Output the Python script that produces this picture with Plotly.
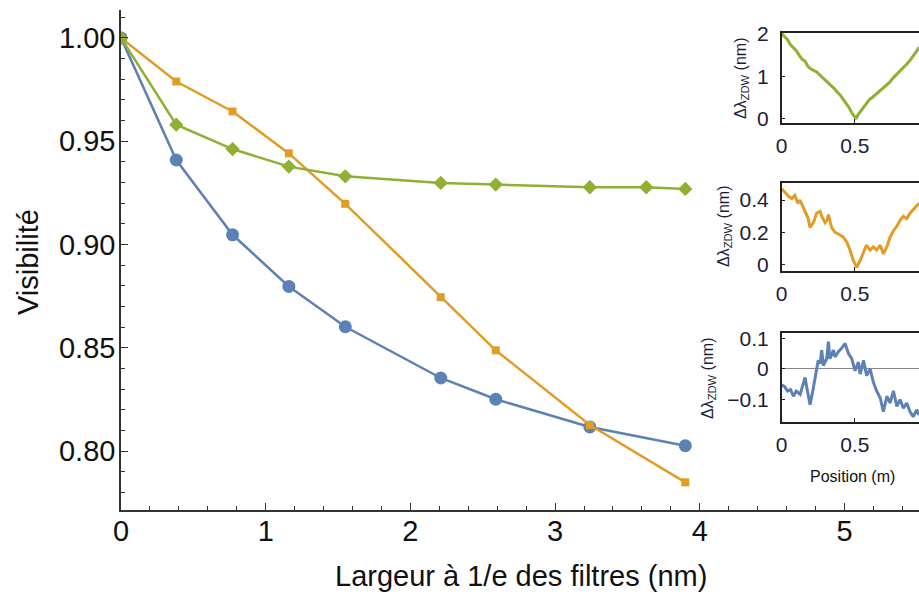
import plotly.graph_objects as go

# main plot data: filter width (nm) vs visibility
x_main = [0, 0.382, 0.771, 1.16, 1.55, 2.21, 2.59, 3.24, 3.90]
x_green = [0, 0.382, 0.771, 1.16, 1.55, 2.21, 2.59, 3.24, 3.63, 3.90]
vis_blue = [1.0, 0.9409, 0.9047, 0.8797, 0.8602, 0.8354, 0.8251, 0.8117, 0.8026]
vis_orange = [1.0, 0.9789, 0.9644, 0.9441, 0.9197, 0.8745, 0.8488, 0.8126, 0.7849]
vis_green = [1.0, 0.958, 0.9462, 0.9377, 0.933, 0.9298, 0.929, 0.9277, 0.9277, 0.9269]

# inset traces: ZDW deviation along position (m)
pos_g = [0.00, 0.02, 0.04, 0.06, 0.08, 0.10, 0.12, 0.14, 0.16, 0.18, 0.20, 0.22, 0.24,
         0.26, 0.28, 0.30, 0.32, 0.34, 0.36, 0.38, 0.40, 0.42, 0.44, 0.46, 0.48, 0.50,
         0.51, 0.52, 0.54, 0.56, 0.58, 0.60, 0.62, 0.64, 0.66, 0.68, 0.70, 0.72, 0.74,
         0.76, 0.78, 0.80, 0.82, 0.84, 0.86, 0.88, 0.90, 0.92, 0.94]
dz_g = [2.00, 1.93, 1.86, 1.74, 1.66, 1.60, 1.49, 1.40, 1.35, 1.23, 1.17, 1.14, 1.10,
        1.03, 0.97, 0.90, 0.84, 0.77, 0.71, 0.63, 0.56, 0.46, 0.37, 0.27, 0.14, 0.03,
        0.00, 0.08, 0.18, 0.28, 0.37, 0.45, 0.50, 0.56, 0.61, 0.67, 0.72, 0.80, 0.86,
        0.95, 1.02, 1.07, 1.14, 1.22, 1.30, 1.38, 1.47, 1.57, 1.68]

pos_o = [0.00, 0.01, 0.03, 0.05, 0.07, 0.09, 0.11, 0.125, 0.14, 0.16, 0.18, 0.194, 0.217,
         0.24, 0.263, 0.274, 0.297, 0.31, 0.32, 0.342, 0.365, 0.388, 0.41, 0.422, 0.445,
         0.468, 0.49, 0.514, 0.537, 0.56, 0.58, 0.605, 0.628, 0.65, 0.674, 0.696, 0.72,
         0.742, 0.765, 0.79, 0.81, 0.833, 0.856, 0.88, 0.90, 0.925, 0.94]
dz_o = [0.47, 0.46, 0.44, 0.42, 0.41, 0.43, 0.38, 0.40, 0.37, 0.33, 0.29, 0.23, 0.26,
        0.32, 0.33, 0.30, 0.26, 0.275, 0.31, 0.23, 0.20, 0.19, 0.175, 0.17, 0.14,
        0.09, 0.025, -0.017, 0.025, 0.077, 0.12, 0.09, 0.11, 0.09, 0.12, 0.067, 0.11,
        0.17, 0.21, 0.24, 0.275, 0.30, 0.285, 0.32, 0.34, 0.37, 0.38]

pos_b = [0.00, 0.02, 0.04, 0.06, 0.08, 0.10, 0.126, 0.148, 0.16, 0.172, 0.194, 0.217,
         0.24, 0.25, 0.263, 0.274, 0.285, 0.308, 0.32, 0.33, 0.354, 0.365, 0.388, 0.41,
         0.434, 0.457, 0.48, 0.502, 0.525, 0.537, 0.56, 0.582, 0.605, 0.628, 0.65, 0.674,
         0.696, 0.72, 0.742, 0.765, 0.788, 0.81, 0.833, 0.856, 0.878, 0.90, 0.925, 0.94]
dz_b = [-0.052, -0.058, -0.072, -0.067, -0.089, -0.072, -0.083, -0.044, -0.028, -0.061,
        -0.117, -0.061, -0.006, 0.028, 0.017, 0.061, 0.011, 0.033, 0.089, 0.033, 0.061,
        0.039, 0.056, 0.067, 0.083, 0.050, 0.033, -0.006, 0.022, -0.017, 0.028, -0.022,
        0.000, -0.044, -0.072, -0.094, -0.139, -0.089, -0.111, -0.072, -0.122, -0.100,
        -0.128, -0.111, -0.139, -0.156, -0.133, -0.150]

BLUE = "#5E81B5"
ORANGE = "#E19C24"
GREEN = "#8FB032"
FONT = "Liberation Sans, Arial, sans-serif"
W, H = 919, 595

fig = go.Figure()

fig.add_trace(go.Scatter(x=x_main, y=vis_blue, mode="lines+markers",
                         line=dict(color=BLUE, width=2.5),
                         marker=dict(symbol="circle", size=13, color=BLUE)))
fig.add_trace(go.Scatter(x=x_main, y=vis_orange, mode="lines+markers",
                         line=dict(color=ORANGE, width=2.5),
                         marker=dict(symbol="square", size=8, color=ORANGE)))
fig.add_trace(go.Scatter(x=x_green, y=vis_green, mode="lines+markers",
                         line=dict(color=GREEN, width=2.5),
                         marker=dict(symbol="diamond", size=11, color=GREEN)))

for i, (px, py, col) in enumerate([(pos_g, dz_g, GREEN), (pos_o, dz_o, ORANGE),
                                    (pos_b, dz_b, BLUE)], start=2):
    fig.add_trace(go.Scatter(x=px, y=py, mode="lines", xaxis=f"x{i}", yaxis=f"y{i}",
                             line=dict(color=col, width=3)))

axcol = "#333333"
fig.update_layout(
    width=W, height=H,
    margin=dict(l=0, r=0, t=0, b=0, autoexpand=False),
    paper_bgcolor="white", plot_bgcolor="white",
    showlegend=False,
    font=dict(family=FONT, color="#111"),
    xaxis=dict(domain=[121 / W, 1], range=[0, 5.515], showgrid=False, zeroline=False,
               automargin=False,
               showline=True, linecolor=axcol, linewidth=1.5,
               ticks="inside", ticklen=7, tickcolor=axcol, tickwidth=1.2, dtick=1,
               tickfont=dict(size=29), ticklabelstandoff=-6,
               minor=dict(dtick=0.2, ticks="inside", ticklen=4, tickcolor=axcol)),
    yaxis=dict(domain=[1 - 510 / H, 1 - 10 / H], range=[0.7715, 1.0135], showgrid=False,
               automargin=False,
               zeroline=False, showline=True, linecolor=axcol, linewidth=1.5,
               ticks="inside", ticklen=7, tickcolor=axcol, tickwidth=1.2,
               tickvals=[0.80, 0.85, 0.90, 0.95, 1.00], tickformat=".2f",
               tickfont=dict(size=29), ticklabelstandoff=-2,
               minor=dict(dtick=0.01, ticks="inside", ticklen=4, tickcolor=axcol)),
)

insets = [
    (2, [-0.10, 2.016], [0, 1, 2], 33, 123),
    (3, [-0.04, 0.508], [0, 0.2, 0.4], 182.7, 271),
    (4, [-0.172, 0.117], [-0.1, 0, 0.1], 333, 421.7),
]
for i, yr, yt, top, bot in insets:
    fig.update_layout(**{
        f"xaxis{i}": dict(domain=[781.7 / W, 1], range=[0, 0.94], anchor=f"y{i}",
                          automargin=False,
                          showgrid=False, zeroline=False, showline=True, mirror=True,
                          linecolor="#222", linewidth=1.5, ticks="inside", ticklen=4,
                          tickcolor="#222", tickvals=[0, 0.5], ticktext=["0", "0.5"],
                          tickfont=dict(size=21, color="#1c1c3a"), ticklabelstandoff=3),
        f"yaxis{i}": dict(domain=[1 - bot / H, 1 - top / H], range=yr, anchor=f"x{i}",
                          automargin=False,
                          showgrid=False, showline=True, mirror=False,
                          zeroline=(i == 4), zerolinecolor="#888", zerolinewidth=1,
                          linecolor="#222", linewidth=1.5, ticks="inside", ticklen=4,
                          tickcolor="#222", tickvals=yt,
                          tickfont=dict(size=21, color="#1c1c3a"), ticklabelstandoff=7),
    })

ann = [
    dict(text="Visibilité", x=28 / W, y=1 - 262 / H, textangle=-90, font=dict(size=29)),
    dict(text="Largeur à 1/e des filtres (nm)", x=521 / W, y=1 - 576 / H,
         font=dict(size=29)),
    dict(text="Position (m)", x=852 / W, y=1 - 476 / H, font=dict(size=16)),
]
for xc, yc in ((742, 78), (724, 226), (708, 378)):
    ann.append(dict(text="Δλ<sub>ZDW</sub> (nm)", x=xc / W, y=1 - yc / H,
                    textangle=-90, font=dict(size=16, color="#1c1c3a")))
for a in ann:
    fig.add_annotation(xref="paper", yref="paper", showarrow=False,
                       xanchor="center", yanchor="middle", **a)

fig.write_html("out.html", config={"displayModeBar": False},
               post_script="document.body.style.margin='0';"
                           "document.body.style.overflow='hidden';")
